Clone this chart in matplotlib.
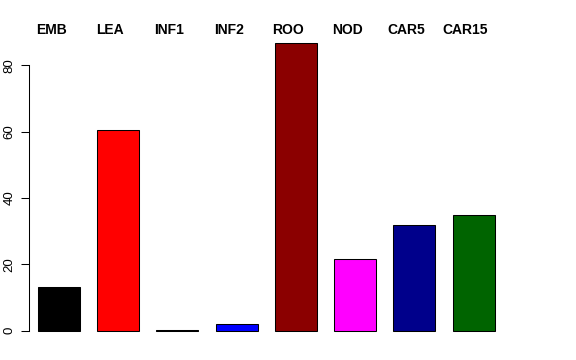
import matplotlib.pyplot as plt
import numpy as np

# Values
groups = ["EMB", "LEA", "INF1", "INF2", "ROO", "NOD", "CAR5", "CAR15"]
values = [13.1, 60.4, 0.3, 1.9, 86.7, 21.7, 32.0, 34.9]
colors = ["black", "red", "black", "blue", "#8B0000", "magenta", "#00008B", "#006400"]
yticks = [0, 20, 40, 60, 80]

plt.rcParams['font.family'] = ['Liberation Sans', 'DejaVu Sans']

fig = plt.figure(figsize=(5.76, 3.6), dpi=100)
ax = fig.add_axes([29 / 576, 0.049, (560 - 29) / 576, 0.862])

x = np.arange(len(groups))
ax.bar(x, values, width=0.71, color=colors, edgecolor="black", linewidth=0.75)

# Group names along the top, R mtext style
for i, g in enumerate(groups):
    ax.text(i - 0.135, 90.6, g, ha="center", va="center",
            fontsize=10, fontweight="bold", clip_on=False)

ax.set_xlim(-0.507, 8.46)
ax.set_ylim(-3.5, 90)
ax.set_xticks([])
ax.set_yticks(yticks)
ax.set_yticklabels([str(t) for t in yticks], rotation=90, va="center", fontsize=9.5)
ax.tick_params(axis="y", length=5.8, width=0.75, pad=4)

for side in ["top", "right", "bottom"]:
    ax.spines[side].set_visible(False)
ax.spines["left"].set_bounds(0, 80)
ax.spines["left"].set_linewidth(0.75)

fig.savefig("out.png", dpi=100)
